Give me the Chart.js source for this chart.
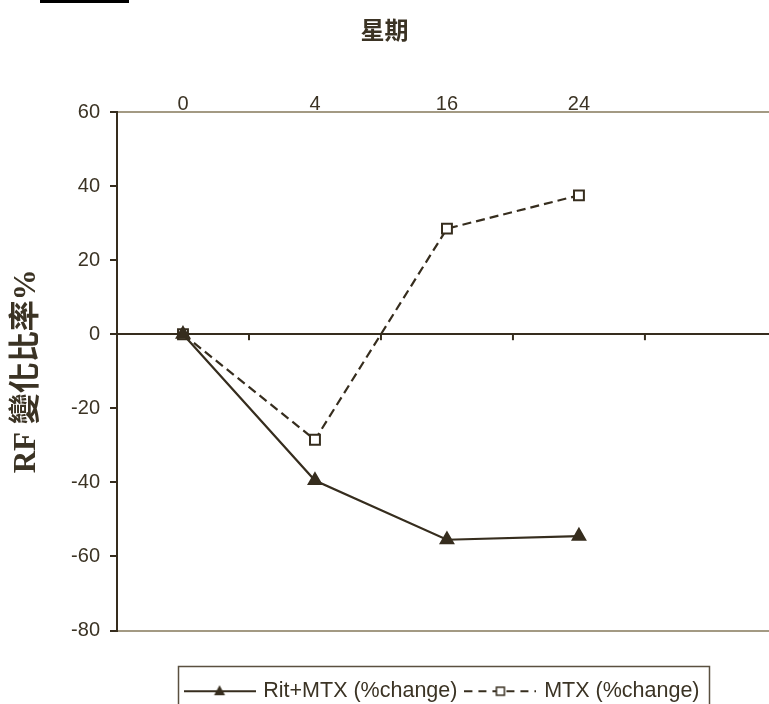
<!DOCTYPE html>
<html>
<head>
<meta charset="utf-8">
<script src="https://cdn.jsdelivr.net/npm/chart.js@4.4.0/dist/chart.umd.min.js"></script>
<style>
  body { margin: 0; background: #fff; overflow: hidden; }
  #wrap { position: relative; width: 769px; height: 704px; }
  #bar { position: absolute; left: 40px; top: 0; width: 89px; height: 3px; background: #000; }
</style>
</head>
<body>
<div id="wrap">
  <canvas id="rfChart" width="769" height="704"></canvas>
  <div id="bar"></div>
</div>
<script>
// weeks (x categories) and % change of RF
const weeks = ["0", "4", "16", "24"];
const ritMtx = [0, -39.5, -55.5, -54.5];
const mtxOnly = [0, -28.5, 28.5, 37.5];
const yRange = [-80, 60];
const seriesNames = ["Rit+MTX (%change)", "MTX (%change)"];

const ink = "#362d1e";
const textInk = "#3b3324";
const lightLine = "#a39a83";
const numFont = { family: "'Liberation Sans', Arial, sans-serif", size: 20 };

function legendSymbol(dashed, marker) {
  const c = document.createElement("canvas");
  c.width = 72;
  c.height = 16;
  const g = c.getContext("2d");
  g.strokeStyle = ink;
  g.lineWidth = 2;
  if (dashed) g.setLineDash([8, 6]);
  g.beginPath();
  g.moveTo(0, 8);
  g.lineTo(72, 8);
  g.stroke();
  g.setLineDash([]);
  if (marker === "triangle") {
    g.fillStyle = ink;
    g.beginPath();
    g.moveTo(36, 2);
    g.lineTo(30.5, 12);
    g.lineTo(41.5, 12);
    g.closePath();
    g.fill();
  } else {
    g.fillStyle = "#fff";
    g.fillRect(32, 4, 8, 8);
    g.lineWidth = 1.5;
    g.strokeRect(32, 4, 8, 8);
  }
  return c;
}

const legendIcons = [legendSymbol(false, "triangle"), legendSymbol(true, "rect")];

// small tick marks hanging under the zero line, between the weeks
const zeroTicks = {
  id: "zeroTicks",
  beforeDatasetsDraw(chart) {
    const xs = chart.scales.x, ys = chart.scales.y;
    const y0 = ys.getPixelForValue(0);
    const g = chart.ctx;
    g.save();
    g.strokeStyle = ink;
    g.lineWidth = 2;
    weeks.forEach((w, i) => {
      const x = xs.getPixelForValue(i + 0.5);
      g.beginPath();
      g.moveTo(x, y0);
      g.lineTo(x, y0 + 6);
      g.stroke();
    });
    g.restore();
  },
  afterDraw(chart) {
    const hb = chart.legend.legendHitBoxes;
    if (!hb || !hb.length) return;
    const last = hb[hb.length - 1];
    const left = hb[0].left - 8;
    const right = last.left + last.width + 10;
    const top = hb[0].top - 14;
    const g = chart.ctx;
    g.save();
    g.strokeStyle = "#5a5040";
    g.lineWidth = 1.5;
    g.strokeRect(left, top, right - left, 100);
    g.restore();
  }
};

new Chart(document.getElementById("rfChart"), {
  type: "line",
  data: {
    datasets: [
      {
        label: seriesNames[0],
        data: ritMtx.map((v, i) => ({ x: i, y: v })),
        xAxisID: "x",
        borderColor: ink,
        borderWidth: 2.2,
        pointStyle: "triangle",
        pointRadius: 7,
        pointBackgroundColor: ink,
        pointBorderColor: ink,
        tension: 0
      },
      {
        label: seriesNames[1],
        data: mtxOnly.map((v, i) => ({ x: i, y: v })),
        xAxisID: "x",
        borderColor: ink,
        borderWidth: 2.2,
        borderDash: [9, 5],
        pointStyle: "rect",
        pointRadius: 7,
        pointBackgroundColor: "#fff",
        pointBorderColor: ink,
        pointBorderWidth: 2,
        tension: 0
      }
    ]
  },
  options: {
    responsive: false,
    animation: false,
    devicePixelRatio: 1,
    layout: { autoPadding: false, padding: { left: 0, right: 0, top: 0, bottom: -8 } },
    plugins: {
      title: {
        display: true,
        text: "星期",
        color: textInk,
        font: { family: "'Noto Sans CJK TC', sans-serif", size: 24, weight: "bold" },
        padding: { top: 15, bottom: 10 }
      },
      legend: {
        position: "bottom",
        fullSize: false,
        labels: {
          usePointStyle: true,
          pointStyleWidth: 66,
          padding: 10,
          color: textInk,
          font: { family: "'Liberation Sans', Arial, sans-serif", size: 21.5 },
          generateLabels: chart => {
            const items = Chart.defaults.plugins.legend.labels.generateLabels(chart);
            items.forEach((it, i) => { it.pointStyle = legendIcons[i]; });
            return items;
          }
        }
      },
      tooltip: { enabled: false }
    },
    scales: {
      x: {
        type: "linear",
        position: "top",
        min: -0.5,
        max: 4.44,
        afterBuildTicks: s => { s.ticks = weeks.map((w, i) => ({ value: i })); },
        ticks: {
          callback: v => weeks[v],
          color: textInk,
          font: numFont,
          padding: -4,
          maxRotation: 0,
          autoSkip: false
        },
        grid: { display: false, drawTicks: false },
        border: { display: false },
        afterFit: s => { s.height = 58.2; }
      },
      gap: {
        type: "linear",
        position: "bottom",
        afterBuildTicks: s => { s.ticks = []; },
        ticks: { display: false },
        grid: { display: false, drawTicks: false },
        border: { display: false },
        afterFit: s => { s.height = 40; s.paddingLeft = 0; s.paddingRight = 0; }
      },
      y: {
        min: yRange[0],
        max: yRange[1],
        ticks: { stepSize: 20, color: textInk, font: numFont, padding: 10 },
        grid: {
          color: ctx => {
            const v = ctx.tick.value;
            if (v === 0) return ink;
            if (v === yRange[0] || v === yRange[1]) return lightLine;
            return "rgba(0,0,0,0)";
          },
          lineWidth: 2,
          tickLength: 7,
          tickColor: ink,
          tickWidth: 2
        },
        border: { color: ink, width: 2 },
        title: {
          display: true,
          text: "RF 變化比率%",
          color: textInk,
          font: { family: "'Liberation Serif', 'Noto Sans CJK TC', serif", size: 31, weight: "bold" },
          padding: { top: 8, bottom: 0 }
        },
        afterFit: s => { s.width = 117; }
      }
    }
  },
  plugins: [zeroTicks]
});
</script>
</body>
</html>
